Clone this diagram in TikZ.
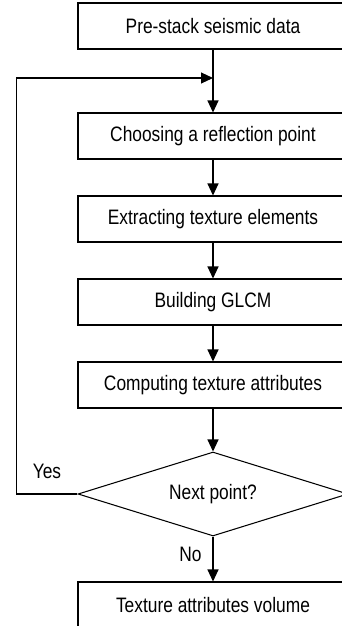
\documentclass[tikz,border=0pt]{standalone}
\usepackage{fontspec}
\setmainfont{Liberation Sans}[FakeStretch=0.83]
\usepackage{tikz}
\usetikzlibrary{arrows.meta,shapes.geometric}

\begin{document}
\begin{tikzpicture}[line width=0.6pt, font=\fontsize{11.9}{14}\selectfont,
    stepbox/.style={draw, rectangle, minimum width=5.4cm, minimum height=0.92cm, inner sep=0pt},
    testbox/.style={draw, diamond, aspect=3.2, minimum width=5.4cm, minimum height=1.68cm, inner sep=0pt},
    arr/.style={-{Triangle[length=0.24cm,width=0.22cm]}}]
\useasboundingbox (0cm,0cm) rectangle (6.84cm,-12.52cm);
\node[stepbox] (data) at (4.26cm,-0.52cm) {Pre-stack seismic data};
\node[stepbox] (choose) at (4.26cm,-2.72cm) {Choosing a reflection point};
\node[stepbox] (extract) at (4.26cm,-4.38cm) {Extracting texture elements};
\node[stepbox] (glcm) at (4.26cm,-6.04cm) {Building GLCM};
\node[stepbox] (compute) at (4.26cm,-7.70cm) {Computing texture attributes};
\node[testbox] (next) at (4.26cm,-9.88cm) {Next point?};
\node[stepbox] (volume) at (4.26cm,-12.10cm) {Texture attributes volume};
\coordinate (join) at (4.26cm,-1.56cm);
\draw[arr] (data) -- (choose);
\draw[arr] (choose) -- (extract);
\draw[arr] (extract) -- (glcm);
\draw[arr] (glcm) -- (compute);
\draw[arr] (compute) -- (next);
\draw[arr] (next) -- node[left=0.1cm,pos=0.4] {No} (volume);
\draw[arr] (next.west) -- node[above=0.18cm] {Yes} ++(-1.22cm,0cm) |- (join);
\end{tikzpicture}
\end{document}
